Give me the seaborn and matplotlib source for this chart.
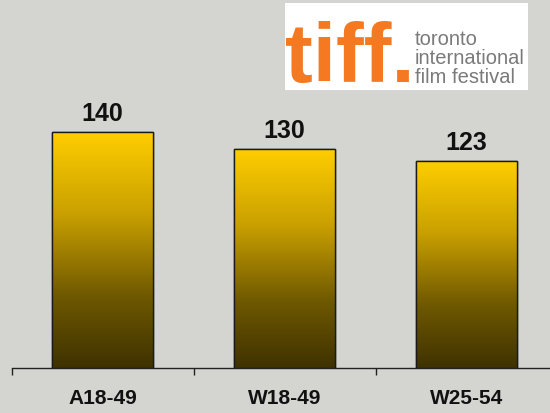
import numpy as np
import matplotlib
matplotlib.use("Agg")
import matplotlib.pyplot as plt
from matplotlib.colors import LinearSegmentedColormap
from matplotlib.patches import Rectangle
import seaborn as sns

# data
categories = ["A18-49", "W18-49", "W25-54"]
values = [140, 130, 123]

sns.set_style("white")
plt.rcParams['font.family'] = ['Liberation Sans', 'DejaVu Sans']

bg = '#d4d4d0'
fig = plt.figure(figsize=(5.5, 4.13), dpi=100, facecolor=bg)
ax = fig.add_axes([11.5 / 550, 45 / 413, 1 - 11.5 / 550, 368 / 413])
ax.set_facecolor(bg)

sns.barplot(x=categories, y=values, width=0.555, color='#ffcc00',
            edgecolor='#1a1a1a', linewidth=1.0, ax=ax, zorder=3)

# gradient fill, bright yellow on top going down to dark brown
cmap = LinearSegmentedColormap.from_list(
    'gold', [(0, '#3f3200'), (0.3, '#6e5800'), (0.65, '#c9a000'), (1, '#ffce00')])
grad = np.linspace(0, 1, 256).reshape(-1, 1)
for p in ax.patches:
    x0, y0 = p.get_x(), p.get_y()
    w, h = p.get_width(), p.get_height()
    im = ax.imshow(grad, cmap=cmap, origin='lower', aspect='auto',
                   extent=[x0, x0 + w, y0, y0 + h], zorder=3.5)
    im.set_clip_path(p)
    ax.add_patch(Rectangle((x0, y0), w, h, fill=False, edgecolor='#1a1a1a',
                           linewidth=1.0, zorder=4))

ax.bar_label(ax.containers[0], labels=[str(v) for v in values], padding=4,
             fontsize=18, fontweight='bold', color='#111111')

for s in ['top', 'right', 'left']:
    ax.spines[s].set_visible(False)
ax.spines['bottom'].set_color('#222222')
ax.spines['bottom'].set_linewidth(1.0)

ax.set_yticks([])
ax.set_xticks([-0.5, 0.5, 1.5, 2.5])
ax.set_xticklabels([])
ax.tick_params(axis='x', which='major', length=5, width=1, color='#222222',
               direction='out', bottom=True)
ax.set_xticks([0, 1, 2], minor=True)
ax.set_xticklabels(categories, minor=True, fontsize=15, fontweight='bold',
                   color='#111111')
ax.tick_params(axis='x', which='minor', length=0, pad=15)
ax.set_xlabel('')
ax.set_ylabel('')

# limits last so the ticks do not widen them
ax.set_xlim(-0.5, (550 - 102.5) / 182)
ax.set_ylim(0, 368 / 1.686)

# tiff logo top right
fig.patches.append(Rectangle((285 / 550, 1 - 90 / 413), 243 / 550, 87 / 413,
                             transform=fig.transFigure, facecolor='white',
                             edgecolor='none', zorder=5))
fig.text(285.5 / 550, 1 - 82 / 413, "tiff.", fontsize=60, fontweight='bold',
         color='#f47920', ha='left', va='baseline', zorder=6)
logo_lines = ["toronto", "international", "film festival"]
for i, line in enumerate(logo_lines):
    fig.text(415 / 550, 1 - (45 + 19 * i) / 413, line, fontsize=14.5,
             color='#7a7a7a', ha='left', va='baseline', zorder=6)

fig.savefig("out.png", dpi=100, facecolor=bg)
